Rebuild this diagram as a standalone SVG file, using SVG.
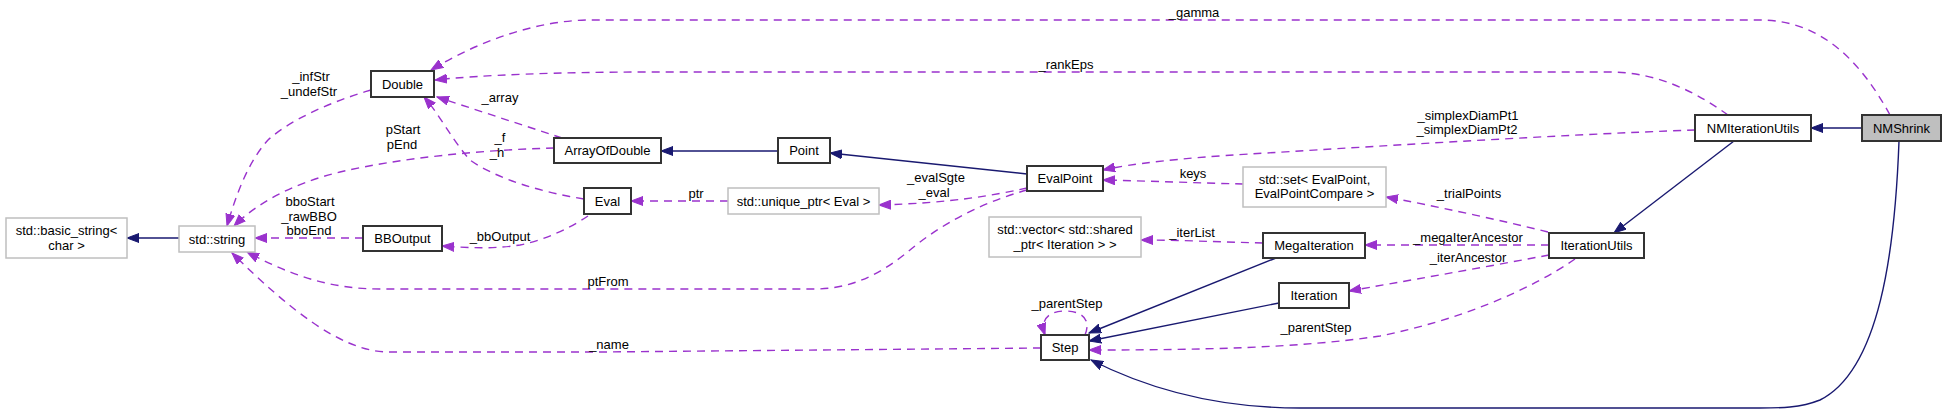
<svg xmlns="http://www.w3.org/2000/svg" width="1947" height="415" viewBox="0 0 1947 415">
<defs>
<style>
text{font-family:"Liberation Sans",Arial,sans-serif;font-size:13px;fill:#000;text-anchor:middle}
.n rect{fill:#fff;stroke:#333;stroke-width:2}
.g rect{fill:#fff;stroke:#bfbfbf;stroke-width:1.5}
.sel rect{fill:#bfbfbf;stroke:#333;stroke-width:2}
.s{fill:none;stroke:#191970;stroke-width:1.4;marker-end:url(#ab)}
.d{fill:none;stroke:#9a32cd;stroke-width:1.4;stroke-dasharray:8,6;marker-end:url(#ap)}
</style>
<marker id="ab" markerUnits="userSpaceOnUse" markerWidth="13" markerHeight="10" refX="12" refY="5" orient="auto"><path d="M0,0.5 L12,5 L0,9.5 z" fill="#191970" stroke="#191970"/></marker>
<marker id="ap" markerUnits="userSpaceOnUse" markerWidth="13" markerHeight="10" refX="12" refY="5" orient="auto"><path d="M0,0.5 L12,5 L0,9.5 z" fill="#9a32cd" stroke="#9a32cd"/></marker>
</defs>
<rect width="1947" height="415" fill="#fff"/>
<g id="connectors">
<path class="s" d="M179,238 L127,238"/>
<path class="d" d="M371,90 C330,102 290,120 268,140 C248,162 236,195 227,226"/>
<path class="d" d="M554,148 C480,150 400,158 340,172 C290,184 255,205 234,226"/>
<path class="d" d="M562,138 L437,97"/>
<path class="d" d="M584,199 C540,192 495,178 470,160 C452,140 440,115 424,97"/>
<path class="d" d="M363,238 L255,238"/>
<path class="d" d="M588,216 C570,228 545,240 520,245 C495,249 470,248 442,246"/>
<path class="d" d="M728,201 L631,201"/>
<path class="d" d="M1027,188 C990,196 950,203 879,205"/>
<path class="d" d="M1027,190 C980,203 940,225 910,250 C880,275 850,289 815,289 L380,289 C330,289 290,275 247,252"/>
<path class="s" d="M1027,174 L830,153"/>
<path class="s" d="M778,151 L661,151"/>
<path class="d" d="M1243,184 C1200,183 1150,181 1103,180"/>
<path class="d" d="M1695,130 C1550,135 1350,148 1250,154 C1180,158 1130,164 1103,170"/>
<path class="d" d="M1728,115 C1700,95 1660,72 1610,72 L650,72 C560,72 480,75 435,80"/>
<path class="d" d="M1890,115 C1860,60 1820,20 1760,20 L590,20 C540,20 480,40 431,70"/>
<path class="s" d="M1862,128 L1811,128"/>
<path class="s" d="M1734,141 L1614,233"/>
<path class="d" d="M1548,232 C1500,220 1430,205 1386,197"/>
<path class="d" d="M1549,245 L1365,245"/>
<path class="d" d="M1549,255 C1480,268 1400,282 1349,291"/>
<path class="d" d="M1575,259 C1530,290 1460,320 1380,336 C1300,348 1200,350 1089,350"/>
<path class="d" d="M1263,243 C1220,242 1180,240 1141,240"/>
<path class="s" d="M1276,258 L1089,333"/>
<path class="s" d="M1279,303 L1089,341"/>
<path class="s" d="M1899,141 C1895,250 1880,370 1820,400 C1800,408 1780,408 1760,408 L1300,408 C1220,408 1150,390 1091,360"/>
<path class="d" d="M1085,335 C1092,318 1080,311 1065,311 C1048,311 1040,320 1045,335"/>
<path class="d" d="M1041,348 L600,352 L386,352 C340,350 290,310 232,253"/>
<text x="1194" y="16.5">_gamma</text>
<text x="1066" y="68.5">_rankEps</text>
<text x="1468" y="119.5">_simplexDiamPt1</text>
<text x="1467" y="133.5">_simplexDiamPt2</text>
<text x="1193" y="177.5">keys</text>
<text x="1469" y="197.5">_trialPoints</text>
<text x="1192" y="236.5">_iterList</text>
<text x="1468" y="241.5">_megaIterAncestor</text>
<text x="1468" y="261.5">_iterAncestor</text>
<text x="1316" y="331.5">_parentStep</text>
<text x="1067" y="307.5">_parentStep</text>
<text x="936" y="181.5">_evalSgte</text>
<text x="934" y="196.5">_eval</text>
<text x="696" y="197.5">ptr</text>
<text x="608" y="285.5">ptFrom</text>
<text x="609" y="348.5">_name</text>
<text x="311" y="80.5">_infStr</text>
<text x="309" y="95.5">_undefStr</text>
<text x="500" y="101.5">_array</text>
<text x="403" y="133.5">pStart</text>
<text x="402" y="148.5">pEnd</text>
<text x="500" y="141.5">_f</text>
<text x="497" y="156.5">_h</text>
<text x="310" y="205.5">bboStart</text>
<text x="309" y="220.5">_rawBBO</text>
<text x="309" y="234.5">bboEnd</text>
<text x="500" y="240.5">_bbOutput</text>
</g>
<g id="node-basic_string" class="g"><rect x="6" y="218" width="121" height="40"/><text x="66.5" y="235">std::basic_string&lt;</text><text x="66.5" y="250">char &gt;</text></g>
<g id="node-string" class="g"><rect x="179" y="226" width="76" height="26"/><text x="217" y="243.5">std::string</text></g>
<g id="node-Double" class="n"><rect x="371" y="71" width="63" height="26"/><text x="402.5" y="88.5">Double</text></g>
<g id="node-ArrayOfDouble" class="n"><rect x="554" y="138" width="107" height="25"/><text x="607.5" y="155">ArrayOfDouble</text></g>
<g id="node-Point" class="n"><rect x="778" y="138" width="52" height="25"/><text x="804" y="155">Point</text></g>
<g id="node-Eval" class="n"><rect x="584" y="188" width="47" height="26"/><text x="607.5" y="205.5">Eval</text></g>
<g id="node-BBOutput" class="n"><rect x="363" y="226" width="79" height="25"/><text x="402.5" y="243">BBOutput</text></g>
<g id="node-unique_ptr" class="g"><rect x="728" y="188" width="151" height="26"/><text x="803.5" y="205.5">std::unique_ptr&lt; Eval &gt;</text></g>
<g id="node-EvalPoint" class="n"><rect x="1027" y="166" width="76" height="25"/><text x="1065" y="183">EvalPoint</text></g>
<g id="node-set" class="g"><rect x="1243" y="167" width="143" height="40"/><text x="1314.5" y="184">std::set&lt; EvalPoint,</text><text x="1314.5" y="198">EvalPointCompare &gt;</text></g>
<g id="node-vector" class="g"><rect x="989" y="217" width="152" height="40"/><text x="1065" y="234">std::vector&lt; std::shared</text><text x="1065" y="249">_ptr&lt; Iteration &gt; &gt;</text></g>
<g id="node-MegaIteration" class="n"><rect x="1263" y="233" width="102" height="25"/><text x="1314" y="250">MegaIteration</text></g>
<g id="node-Iteration" class="n"><rect x="1279" y="283" width="70" height="25"/><text x="1314" y="300">Iteration</text></g>
<g id="node-Step" class="n"><rect x="1041" y="335" width="48" height="25"/><text x="1065" y="352">Step</text></g>
<g id="node-IterationUtils" class="n"><rect x="1549" y="233" width="95" height="25"/><text x="1596.5" y="250">IterationUtils</text></g>
<g id="node-NMIterationUtils" class="n"><rect x="1695" y="115" width="116" height="26"/><text x="1753" y="132.5">NMIterationUtils</text></g>
<g id="node-NMShrink" class="sel"><rect x="1862" y="115" width="79" height="26"/><text x="1901.5" y="132.5">NMShrink</text></g>
</svg>
